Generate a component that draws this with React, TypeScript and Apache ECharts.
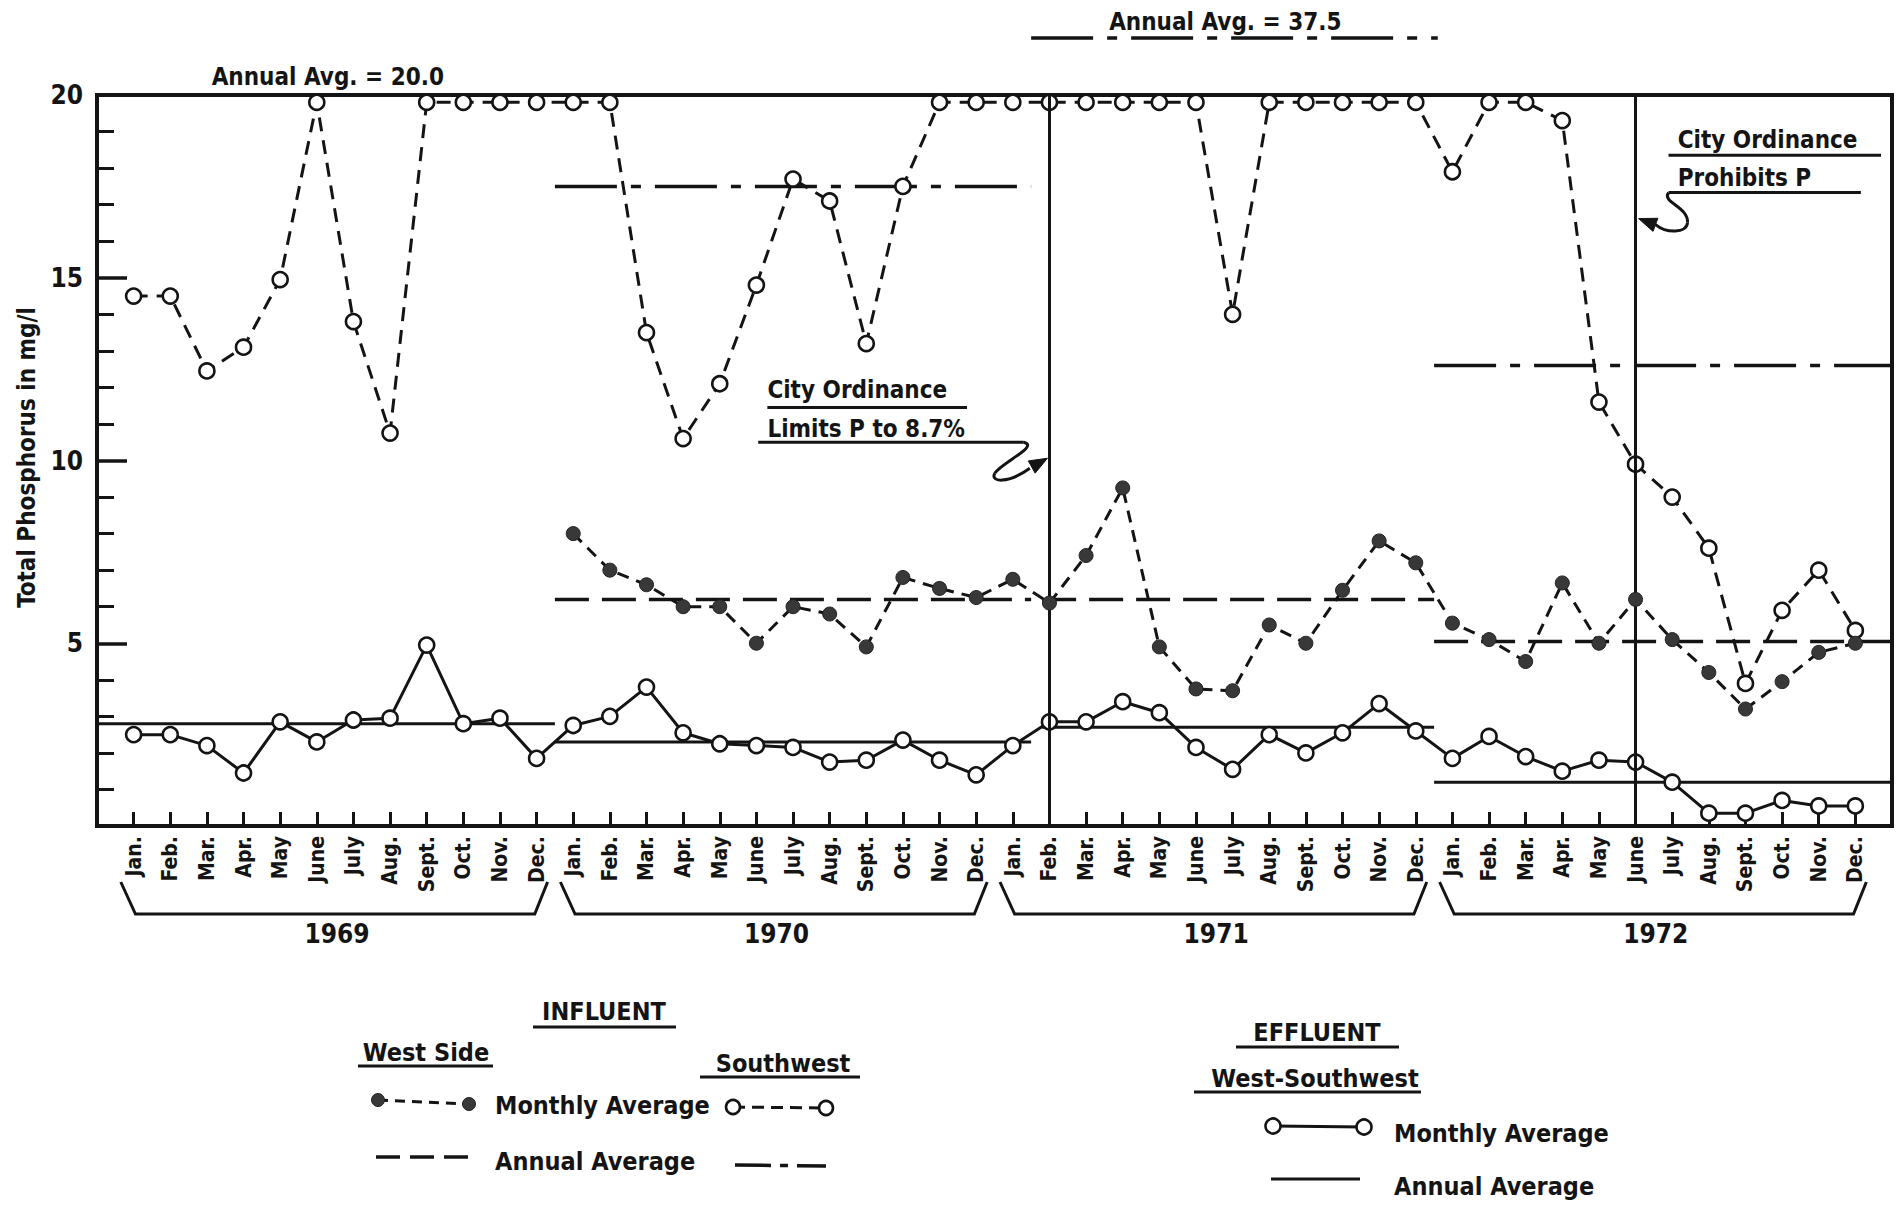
import React, { useEffect, useRef } from "react";
import * as echarts from "echarts";

// ---------- data ----------
const monthLabels = ["Jan.", "Feb.", "Mar.", "Apr.", "May", "June", "July", "Aug.", "Sept.", "Oct.", "Nov.", "Dec."];
const yearLabels = ["1969", "1970", "1971", "1972"];

// Influent, Southwest - monthly average (20 = off scale, drawn at the top edge)
const southwestMonthly = [
  14.5, 14.5, 12.45, 13.1, 14.95, 20, 13.8, 10.75, 20, 20, 20, 20,
  20, 20, 13.5, 10.6, 12.1, 14.8, 17.7, 17.1, 13.2, 17.5, 20, 20,
  20, 20, 20, 20, 20, 20, 14.0, 20, 20, 20, 20, 20,
  17.9, 20, 20, 19.3, 11.6, 9.9, 9.0, 7.6, 3.9, 5.9, 7.0, 5.35,
];

// Influent, West Side - monthly average (no data for 1969)
const westSideMonthly = [
  null, null, null, null, null, null, null, null, null, null, null, null,
  8.0, 7.0, 6.6, 6.0, 6.0, 5.0, 6.0, 5.8, 4.9, 6.8, 6.5, 6.25,
  6.75, 6.1, 7.4, 9.25, 4.9, 3.75, 3.7, 5.5, 5.0, 6.45, 7.8, 7.2,
  5.55, 5.1, 4.5, 6.65, 5.0, 6.2, 5.1, 4.2, 3.2, 3.95, 4.75, 5.0,
];

// Effluent, West-Southwest - monthly average
const effluentMonthly = [
  2.5, 2.5, 2.2, 1.45, 2.85, 2.3, 2.9, 2.95, 4.95, 2.8, 2.95, 1.85,
  2.75, 3.0, 3.8, 2.55, 2.25, 2.2, 2.15, 1.75, 1.8, 2.35, 1.8, 1.4,
  2.2, 2.85, 2.85, 3.4, 3.1, 2.15, 1.55, 2.5, 2.0, 2.55, 3.35, 2.6,
  1.85, 2.45, 1.9, 1.5, 1.8, 1.75, 1.2, 0.35, 0.35, 0.7, 0.55, 0.55,
];

// Annual averages per year (1969..1972)
const southwestAnnual = [20.0, 17.5, 37.5, 12.6];
const westSideAnnual = [null, 6.2, 6.2, 5.05];
const effluentAnnual = [2.8, 2.3, 2.7, 1.2];
// month-index span of each annual-average bar
const annualFrom = [-1, 11.5, 24.8, 35.5];
const annualTo = [11.5, 24.5, 35.5, 48];

// City ordinance dates (month index): Feb 1971, June 1972
const ordinanceMonths = [25, 41];

const Y_MIN = 0;
const Y_MAX = 20;
const Y_STEP = 5;
const X_MIN = -1;
const X_MAX = 48;

// ---------- style ----------
const FONT = '"DejaVu Sans Condensed", "Liberation Sans Narrow", "DejaVu Sans", sans-serif';
const INK = "#141414";
const DOT = "#383838";
const bold = (s: number) => `bold ${s}px ${FONT}`;

export default function App() {
  const ref = useRef<HTMLDivElement>(null);

  useEffect(() => {
    const el = ref.current as HTMLDivElement;
    const chart = echarts.init(el, null, { renderer: "svg" });

    const TOP = 95;
    const BOTTOM = 826;
    const LEFT = 97;
    const RIGHT = 1892;

    const drawCap = (v: number) => (v >= Y_MAX ? Y_MAX - 0.2 : v);
    const pts = (arr: (number | null)[]) =>
      arr.map((v, i) => (v == null ? null : [i, drawCap(v)])).filter((p) => p !== null);

    const series: any[] = [];

    // annual averages
    yearLabels.forEach((_, k) => {
      const sw = southwestAnnual[k];
      if (sw != null && sw < Y_MAX) {
        series.push({
          type: "line", silent: true, z: 2, symbol: "none",
          data: [[annualFrom[k], sw], [annualTo[k], sw]],
          lineStyle: { color: INK, width: 3.5, type: [62, 14, 10, 14] },
        });
      }
      const ws = westSideAnnual[k];
      if (ws != null) {
        series.push({
          type: "line", silent: true, z: 2, symbol: "none",
          data: [[annualFrom[k], ws], [annualTo[k], ws]],
          lineStyle: { color: INK, width: 3.5, type: [34, 13] },
        });
      }
      const ef = effluentAnnual[k];
      series.push({
        type: "line", silent: true, z: 2, symbol: "none",
        data: [[annualFrom[k], ef], [annualTo[k], ef]],
        lineStyle: { color: INK, width: 3, type: "solid" },
      });
    });

    // monthly series
    series.push({
      type: "line", name: "Effluent West-Southwest", z: 4,
      data: pts(effluentMonthly),
      showSymbol: true, showAllSymbol: true,
      symbol: "circle", symbolSize: 15,
      itemStyle: { color: "#fff", borderColor: INK, borderWidth: 2.6 },
      lineStyle: { color: INK, width: 3, type: "solid" },
      markLine: {
        silent: true, symbol: ["none", "none"], label: { show: false },
        lineStyle: { color: INK, width: 3, type: "solid" },
        data: ordinanceMonths.map((m) => ({ xAxis: m })),
      },
    });
    series.push({
      type: "line", name: "Influent Southwest", z: 4,
      data: pts(southwestMonthly),
      showSymbol: true, showAllSymbol: true,
      symbol: "circle", symbolSize: 15,
      itemStyle: { color: "#fff", borderColor: INK, borderWidth: 2.6 },
      lineStyle: { color: INK, width: 3, type: [14, 9] },
    });
    series.push({
      type: "line", name: "Influent West Side", z: 5,
      data: pts(westSideMonthly),
      showSymbol: true, showAllSymbol: true,
      symbol: "circle", symbolSize: 14,
      itemStyle: { color: DOT, borderColor: "#222", borderWidth: 1 },
      lineStyle: { color: INK, width: 3, type: [12, 8] },
    });

    chart.setOption({
      animation: false,
      backgroundColor: "#ffffff",
      grid: {
        left: LEFT, right: 1904 - RIGHT, top: TOP, bottom: 1208 - BOTTOM,
        show: true, borderColor: INK, borderWidth: 4, backgroundColor: "transparent",
      },
      xAxis: {
        type: "value", min: X_MIN, max: X_MAX, interval: 1,
        axisLine: { show: true, onZero: false, lineStyle: { color: INK, width: 4 } },
        axisTick: { show: true, inside: true, length: 14, lineStyle: { color: INK, width: 3 } },
        splitLine: { show: false },
        axisLabel: {
          show: true, rotate: 90, margin: 10, color: INK,
          fontFamily: FONT, fontWeight: "bold", fontSize: 21,
          formatter: (v: number) => {
            const i = Math.round(v);
            if (i < 0 || i > 47) return "";
            return monthLabels[i % 12];
          },
        },
      },
      yAxis: {
        type: "value", min: Y_MIN, max: Y_MAX, interval: Y_STEP,
        axisLine: { show: true, onZero: false, lineStyle: { color: INK, width: 4 } },
        axisTick: { show: true, inside: true, length: 30, lineStyle: { color: INK, width: 3.5 } },
        minorTick: { show: true, splitNumber: 5, length: 17, lineStyle: { color: INK, width: 3 } },
        splitLine: { show: false },
        axisLabel: {
          margin: 14, color: INK, fontFamily: FONT, fontWeight: "bold", fontSize: 26,
          formatter: (v: number) => (v === 0 ? "" : String(v)),
        },
      },
      series,
    });

    const px = (i: number) => chart.convertToPixel({ xAxisIndex: 0 }, i) as number;
    const py = (v: number) => chart.convertToPixel({ yAxisIndex: 0 }, v) as number;

    const g: any[] = [];
    const txt = (t: string, x: number, y: number, size: number, align = "left", extra: any = {}) => ({
      type: "text", x, y, silent: true, z: 60,
      style: {
        text: t, font: bold(size), fill: INK,
        textAlign: align, textVerticalAlign: "middle", align, verticalAlign: "middle",
      },
      ...extra,
    });
    const ln = (x1: number, y1: number, x2: number, y2: number, w = 3, dash?: number[]) => ({
      type: "line", silent: true, z: 60,
      shape: { x1, y1, x2, y2 },
      style: { stroke: INK, lineWidth: w, lineDash: dash, lineCap: "butt" },
    });
    const circ = (cx: number, cy: number, r: number, filled: boolean) => ({
      type: "circle", silent: true, z: 61,
      shape: { cx, cy, r },
      style: filled ? { fill: DOT, stroke: "#222", lineWidth: 1 } : { fill: "#fff", stroke: INK, lineWidth: 2.6 },
    });
    const bez = (x1: number, y1: number, cpx1: number, cpy1: number, cpx2: number, cpy2: number, x2: number, y2: number) => ({
      type: "bezierCurve", silent: true, z: 60,
      shape: { x1, y1, cpx1, cpy1, cpx2, cpy2, x2, y2 },
      style: { stroke: INK, lineWidth: 3, fill: "none" },
    });
    const arrowHead = (fromX: number, fromY: number, tipX: number, tipY: number) => {
      const dx = tipX - fromX, dy = tipY - fromY;
      const L = Math.hypot(dx, dy) || 1;
      const ux = dx / L, uy = dy / L;
      const bx = tipX - ux * 18, by = tipY - uy * 18;
      return {
        type: "polygon", silent: true, z: 61,
        shape: { points: [[tipX, tipY], [bx - uy * 7, by + ux * 7], [bx + uy * 7, by - ux * 7]] },
        style: { fill: INK, stroke: INK, lineWidth: 1 },
      };
    };

    // y axis title
    g.push(txt("Total Phosphorus in mg/l", 27, (TOP + BOTTOM) / 2 - 3, 24, "center", { rotation: Math.PI / 2 }));

    // off-scale annual averages above the plot
    g.push(txt("Annual Avg. = 20.0", px(5.3), TOP - 18, 24, "center"));
    g.push(ln(px(annualFrom[2] - 0.3), TOP - 57, px(annualTo[2] + 0.1), TOP - 57, 3.5, [62, 14, 10, 14]));
    g.push(txt("Annual Avg. = 37.5", px(29.8), TOP - 73, 24, "center"));

    // year brackets
    yearLabels.forEach((y, k) => {
      const b = k * 12;
      const yb = BOTTOM + 88;
      g.push({
        type: "polyline", silent: true, z: 60,
        shape: { points: [[px(b - 0.35), yb - 32], [px(b + 0.05), yb], [px(b + 10.95), yb], [px(b + 11.3), yb - 32]] },
        style: { stroke: INK, lineWidth: 3, fill: "none" },
      });
      g.push(txt(y, px(b + 5.55), yb + 20, 26, "center"));
    });

    // annotation 1: City Ordinance Limits P to 8.7%
    g.push(txt("City Ordinance", px(17.3), py(11.92), 24));
    g.push(ln(px(17.3), py(11.45), px(22.75), py(11.45)));
    g.push(txt("Limits P to 8.7%", px(17.3), py(10.87), 24));
    const ax = px(24.3), ay = py(10.5);
    g.push(ln(px(17.05), ay, ax, ay));
    g.push(bez(ax, ay, ax + 16, ay + 4, ax - 22, ay + 20, ax - 29, ay + 31));
    g.push(bez(ax - 29, ay + 31, ax - 34, ay + 40, ax - 16, ay + 42, ax + 6, ay + 26));
    const tip1x = px(ordinanceMonths[0]) - 2;
    g.push(arrowHead(ax + 4, ay + 27, tip1x, ay + 16));

    // annotation 2: City Ordinance Prohibits P
    g.push(txt("City Ordinance", px(42.15), py(18.78), 24));
    g.push(ln(px(41.9), py(18.35), px(47.7), py(18.35)));
    g.push(txt("Prohibits P", px(42.15), py(17.72), 24));
    const bx = px(41.9), by = py(17.33);
    g.push(ln(bx, by, px(47.15), by));
    g.push(bez(bx, by, bx - 7, by + 10, bx + 20, by + 14, bx + 19, by + 30));
    g.push(bez(bx + 19, by + 30, bx + 18, by + 41, bx - 2, by + 41, bx - 13, by + 32));
    const tip2x = px(ordinanceMonths[1]) + 3;
    g.push(arrowHead(bx - 11, by + 33, tip2x, by + 26));

    // legend: influent
    g.push(txt("INFLUENT", 604, 1011, 25, "center"));
    g.push(ln(533, 1027, 676, 1027));
    g.push(txt("West Side", 426, 1052, 25, "center"));
    g.push(ln(358, 1066, 493, 1066));
    g.push(txt("Southwest", 783, 1063, 25, "center"));
    g.push(ln(700, 1077, 860, 1077));
    g.push(ln(378, 1100, 469, 1104, 3, [10, 7]));
    g.push(circ(378, 1100, 6.5, true));
    g.push(circ(469, 1104, 6.5, true));
    g.push(txt("Monthly Average", 495, 1105, 25));
    g.push(ln(733, 1107, 826, 1108, 3, [12, 7]));
    g.push(circ(733, 1107, 7, false));
    g.push(circ(826, 1108, 7, false));
    g.push(ln(376, 1157, 471, 1157, 3.5, [24, 10]));
    g.push(txt("Annual Average", 495, 1161, 25));
    g.push(ln(735, 1165, 826, 1166, 3.5, [36, 9, 8, 9]));

    // legend: effluent
    g.push(txt("EFFLUENT", 1317, 1032, 25, "center"));
    g.push(ln(1236, 1047, 1399, 1047));
    g.push(txt("West-Southwest", 1315, 1078, 25, "center"));
    g.push(ln(1194, 1092, 1421, 1092));
    g.push(ln(1273, 1126, 1364, 1127, 3));
    g.push(circ(1273, 1126, 7.5, false));
    g.push(circ(1364, 1127, 7.5, false));
    g.push(txt("Monthly Average", 1394, 1133, 25));
    g.push(ln(1271, 1179, 1360, 1179, 3));
    g.push(txt("Annual Average", 1394, 1186, 25));

    chart.setOption({ graphic: g });

    return () => chart.dispose();
  }, []);

  return (
    <div
      ref={ref}
      style={{ position: "fixed", left: 0, top: 0, width: 1904, height: 1208, background: "#fff" }}
    />
  );
}
